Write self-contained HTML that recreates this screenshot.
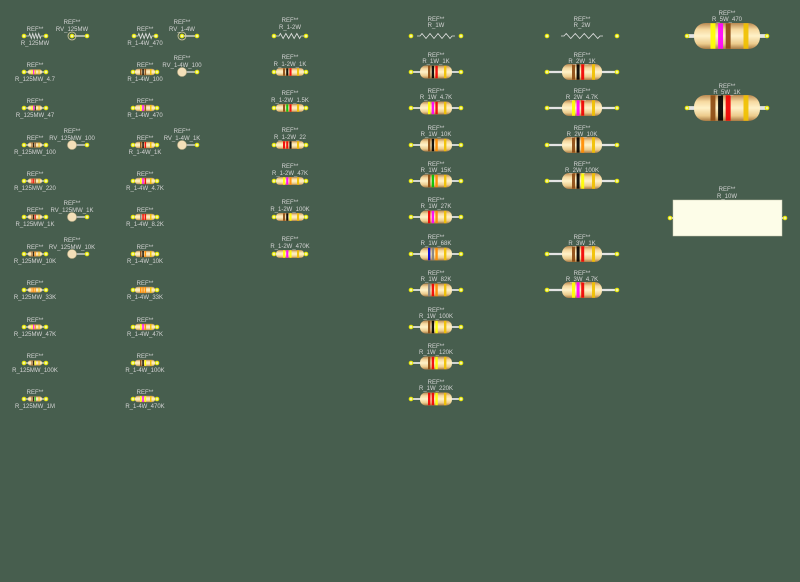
<!DOCTYPE html>
<html><head><meta charset="utf-8"><style>
html,body{margin:0;padding:0;background:#475e4e;}
svg{display:block}
text{font-family:"Liberation Sans",sans-serif;font-size:6px;fill:#d4d4d4;text-anchor:middle}
</style></head><body>
<svg id="s" width="800" height="582" viewBox="0 0 800 582">
<defs>
<linearGradient id="g" x1="0" y1="0" x2="0" y2="1">
<stop offset="0" stop-color="#b98850"/><stop offset="0.25" stop-color="#f6d9a0"/><stop offset="0.5" stop-color="#fff2c8"/><stop offset="0.8" stop-color="#eccb8c"/><stop offset="1" stop-color="#a87a44"/>
</linearGradient>
</defs>
<rect width="800" height="582" fill="#475e4e"/>
<g id="art"></g>
<g>
<text x="35" y="31">REF**</text><text x="35" y="45">R_125MW</text>
<text x="35" y="67">REF**</text><text x="35" y="81">R_125MW_4.7</text>
<text x="35" y="103">REF**</text><text x="35" y="117">R_125MW_47</text>
<text x="35" y="140">REF**</text><text x="35" y="154">R_125MW_100</text>
<text x="35" y="176">REF**</text><text x="35" y="190">R_125MW_220</text>
<text x="35" y="212">REF**</text><text x="35" y="226">R_125MW_1K</text>
<text x="35" y="249">REF**</text><text x="35" y="263">R_125MW_10K</text>
<text x="35" y="285">REF**</text><text x="35" y="299">R_125MW_33K</text>
<text x="35" y="322">REF**</text><text x="35" y="336">R_125MW_47K</text>
<text x="35" y="358">REF**</text><text x="35" y="372">R_125MW_100K</text>
<text x="35" y="394">REF**</text><text x="35" y="408">R_125MW_1M</text>
<text x="72" y="24">REF**</text><text x="72" y="31">RV_125MW</text>
<text x="72" y="133">REF**</text><text x="72" y="140">RV_125MW_100</text>
<text x="72" y="205">REF**</text><text x="72" y="212">RV_125MW_1K</text>
<text x="72" y="242">REF**</text><text x="72" y="249">RV_125MW_10K</text>
<text x="145" y="31">REF**</text><text x="145" y="45">R_1-4W_470</text>
<text x="145" y="67">REF**</text><text x="145" y="81">R_1-4W_100</text>
<text x="145" y="103">REF**</text><text x="145" y="117">R_1-4W_470</text>
<text x="145" y="140">REF**</text><text x="145" y="154">R_1-4W_1K</text>
<text x="145" y="176">REF**</text><text x="145" y="190">R_1-4W_4.7K</text>
<text x="145" y="212">REF**</text><text x="145" y="226">R_1-4W_8.2K</text>
<text x="145" y="249">REF**</text><text x="145" y="263">R_1-4W_10K</text>
<text x="145" y="285">REF**</text><text x="145" y="299">R_1-4W_33K</text>
<text x="145" y="322">REF**</text><text x="145" y="336">R_1-4W_47K</text>
<text x="145" y="358">REF**</text><text x="145" y="372">R_1-4W_100K</text>
<text x="145" y="394">REF**</text><text x="145" y="408">R_1-4W_470K</text>
<text x="182" y="24">REF**</text><text x="182" y="31">RV_1-4W</text>
<text x="182" y="60">REF**</text><text x="182" y="67">RV_1-4W_100</text>
<text x="182" y="133">REF**</text><text x="182" y="140">RV_1-4W_1K</text>
<text x="290" y="22">REF**</text><text x="290" y="29">R_1-2W</text>
<text x="290" y="59">REF**</text><text x="290" y="66">R_1-2W_1K</text>
<text x="290" y="95">REF**</text><text x="290" y="102">R_1-2W_1.5K</text>
<text x="290" y="132">REF**</text><text x="290" y="139">R_1-2W_22</text>
<text x="290" y="168">REF**</text><text x="290" y="175">R_1-2W_47K</text>
<text x="290" y="204">REF**</text><text x="290" y="211">R_1-2W_100K</text>
<text x="290" y="241">REF**</text><text x="290" y="248">R_1-2W_470K</text>
<text x="436" y="21">REF**</text><text x="436" y="27">R_1W</text>
<text x="436" y="57">REF**</text><text x="436" y="63">R_1W_1K</text>
<text x="436" y="93">REF**</text><text x="436" y="99">R_1W_4.7K</text>
<text x="436" y="130">REF**</text><text x="436" y="136">R_1W_10K</text>
<text x="436" y="166">REF**</text><text x="436" y="172">R_1W_15K</text>
<text x="436" y="202">REF**</text><text x="436" y="208">R_1W_27K</text>
<text x="436" y="239">REF**</text><text x="436" y="245">R_1W_68K</text>
<text x="436" y="275">REF**</text><text x="436" y="281">R_1W_82K</text>
<text x="436" y="312">REF**</text><text x="436" y="318">R_1W_100K</text>
<text x="436" y="348">REF**</text><text x="436" y="354">R_1W_120K</text>
<text x="436" y="384">REF**</text><text x="436" y="390">R_1W_220K</text>
<text x="582" y="21">REF**</text><text x="582" y="27">R_2W</text>
<text x="582" y="57">REF**</text><text x="582" y="63">R_2W_1K</text>
<text x="582" y="93">REF**</text><text x="582" y="99">R_2W_4.7K</text>
<text x="582" y="130">REF**</text><text x="582" y="136">R_2W_10K</text>
<text x="582" y="166">REF**</text><text x="582" y="172">R_2W_100K</text>
<text x="582" y="239">REF**</text><text x="582" y="245">R_3W_1K</text>
<text x="582" y="275">REF**</text><text x="582" y="281">R_3W_4.7K</text>
<text x="727" y="15">REF**</text><text x="727" y="21">R_5W_470</text>
<text x="727" y="88">REF**</text><text x="727" y="94">R_5W_1K</text>
<text x="727" y="191">REF**</text><text x="727" y="198">R_10W</text>
</g>
</svg>
<script>
var NS="http://www.w3.org/2000/svg",A=document.getElementById("art");
function el(t,a){var e=document.createElementNS(NS,t);for(var k in a)e.setAttribute(k,a[k]);A.appendChild(e);return e;}
var C={k:"#000",n:"#8b4a12",r:"#f00000",o:"#ff8c00",y:"#ffff00",g:"#00c000",b:"#0000e0",v:"#ff00ff",e:"#808080",w:"#fff",G:"#f0c000"};
var S={1:[7,2.6,11],2:[10,3.3,12],3:[14,4,16],4:[16,6.5,25],5:[20,8,35],6:[33,13,40]};
function pad(x,y,r){el("circle",{cx:x,cy:y,r:r||1.8,fill:"#f4f4a0",stroke:"#e8e800","stroke-width":1});}
function R(x,y,s,b){var p=S[s],W=p[0],H=p[1],P=p[2];
 el("line",{x1:x-P,y1:y,x2:x+P,y2:y,stroke:"#e4e4e4","stroke-width":Math.max(1.2,H/3.5)});
 pad(x-P,y);pad(x+P,y);
 el("rect",{x:x-W,y:y-H,width:2*W,height:2*H,rx:H*0.9,fill:"url(#g)"});
 var pos=[-0.5,-0.27,-0.04,0.5],bw=W*0.15;
 for(var i=0;i<4;i++){var c=i<3?b[i]:"G";el("rect",{x:x+pos[i]*W,y:y-H+0.3,width:bw,height:2*H-0.6,fill:C[c],opacity:0.92});}
}
function Z(x,y,P,zw){pad(x-P,y);pad(x+P,y);
 var d="M"+(x-zw-3)+" "+y+" L"+(x-zw)+" "+y,n=8,st=2*zw/n;
 for(var i=0;i<n;i++){d+=" L"+(x-zw+st*(i+0.5))+" "+(y+(i%2?2.5:-2.5));}
 d+=" L"+(x+zw)+" "+y+" L"+(x+zw+3)+" "+y;el("path",{d:d,fill:"none",stroke:"#e0e0e0","stroke-width":0.8});}
function RV(x,y,big){el("line",{x1:x,y1:y,x2:x+15,y2:y,stroke:"#e0e0e0","stroke-width":1.3});
 if(big)el("circle",{cx:x,cy:y,r:4.5,fill:"#f3dfb8",stroke:"#c8b890","stroke-width":0.6});
 else{el("circle",{cx:x,cy:y,r:4,fill:"none",stroke:"#d8d0a0","stroke-width":0.8});pad(x,y);}
 pad(x+15,y);}
var rows=[36,72,108,145,181,217,254,290,327,363,399];
Z(35,36,11,6);
var c1=["yvG","yvk","nkn","rrn","nkr","nko","ooo","yvo","nky","nkg"];
for(var i=0;i<10;i++)R(35,rows[i+1],1,c1[i]);
RV(72,36,0);RV(72,145,1);RV(72,217,1);RV(72,254,1);
Z(145,36,11,7);
var c2=["nkn","yvn","nkr","yvr","err","nko","ooo","yvo","nky","yvy"];
for(var i=0;i<10;i++)R(145,rows[i+1],2,c2[i]);
RV(182,36,0);RV(182,72,1);RV(182,145,1);
Z(290,36,16,11);
var c3=["nkr","ngr","rrk","yvo","nky","yvy"];
for(var i=0;i<6;i++)R(290,rows[i+1],3,c3[i]);
Z(436,36,25,16);
var c4=["nkr","yvr","nko","ngo","rvo","beo","ero","nky","nry","rry"];
for(var i=0;i<10;i++)R(436,rows[i+1],4,c4[i]);
Z(582,36,35,18);
R(582,72,5,"nkr");R(582,108,5,"yvr");R(582,145,5,"nko");R(582,181,5,"nky");
R(582,254,5,"nkr");R(582,290,5,"yvr");
R(727,36,6,"yvn");R(727,108,6,"nkr");
el("line",{x1:670,y1:218,x2:785,y2:218,stroke:"#e0e0e0","stroke-width":2});
pad(670,218);pad(785,218);
el("rect",{x:673,y:200,width:109,height:36,fill:"#fdfde8",stroke:"#c8c8b0","stroke-width":0.5});
</script>
</body></html>
